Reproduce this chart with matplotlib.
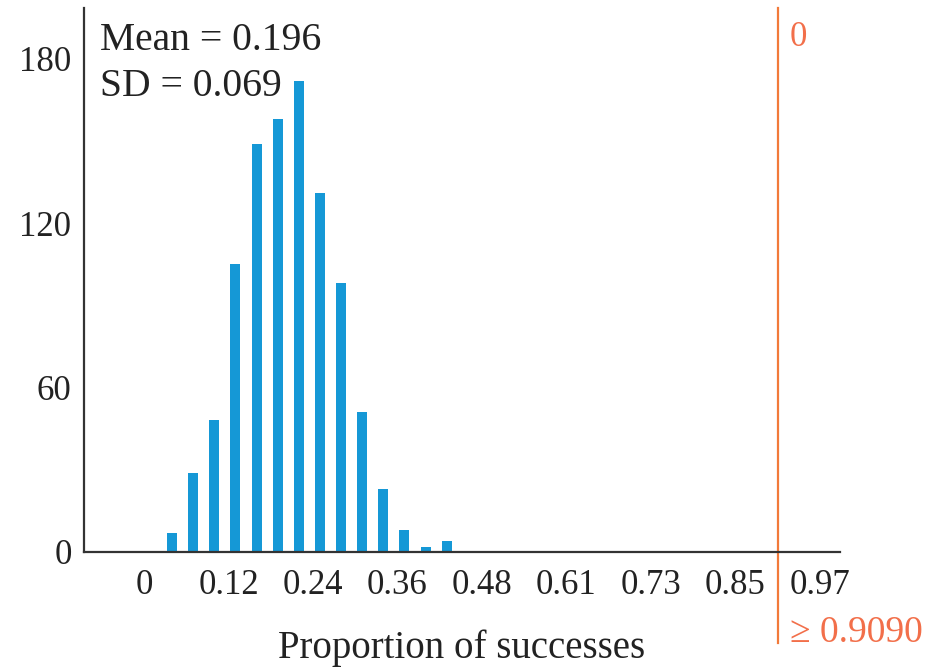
import matplotlib
matplotlib.use('Agg')
import matplotlib.pyplot as plt
import numpy as np

# simulated count of successes out of n = 33
n_trials = 33
successes = [1, 2, 3, 4, 5, 6, 7, 8, 9, 10, 11, 12, 13, 14]
counts = [7, 29, 48, 105, 149, 158, 172, 131, 98, 51, 23, 8, 2, 4]
tick_k = [0, 4, 8, 12, 16, 20, 24, 28, 32]
tick_labels = ["0", "0.12", "0.24", "0.36", "0.48", "0.61", "0.73", "0.85", "0.97"]
y_ticks = [0, 60, 120, 180]
cutoff = 30 / 33  # 0.9090
mean_txt = "Mean = 0.196"
sd_txt = "SD = 0.069"

plt.rcParams['font.family'] = ['Liberation Serif', 'DejaVu Serif']

fig = plt.figure(figsize=(9.38, 6.69), dpi=100)
ax = fig.add_axes([84/938, 117/669, 756/938, 544/669])

blue = "#1598D6"
orange = "#F27A3A"

x = (np.array(successes) + 0.33) / n_trials
ax.bar(x, counts, width=0.47/n_trials, color=blue)

ax.set_xlim(-2.84/n_trials, 32.95/n_trials)
ax.set_ylim(0, 198.5)

ax.set_xticks(np.array(tick_k)/n_trials)
ax.set_xticklabels(tick_labels)
ax.set_yticks(y_ticks)
ax.tick_params(axis='both', length=0, labelsize=25, colors="#222222")
ax.tick_params(axis='x', pad=12)
ax.tick_params(axis='y', pad=9)

for s in ['top', 'right']:
    ax.spines[s].set_visible(False)
for s in ['left', 'bottom']:
    ax.spines[s].set_color("#333333")
    ax.spines[s].set_linewidth(1.6)

ax.set_xlabel("Proportion of successes", fontsize=28, color="#222222", labelpad=20)

ax.text(0.021, 0.975, mean_txt + "\n" + sd_txt, transform=ax.transAxes,
        fontsize=28.5, va='top', ha='left', linespacing=1.32, color="#222222")

# cutoff line reaching below the axis
ax.axvline(cutoff, ymin=-0.168, ymax=1.0, color=orange, lw=1.6, clip_on=False)
ax.text(cutoff + 0.55/n_trials, 0.945, "0", transform=ax.get_xaxis_transform(),
        fontsize=25, color="#F26F4A", va='center', ha='left')
ax.text(cutoff + 0.6/n_trials, -0.148, "≥ 0.9090", transform=ax.get_xaxis_transform(),
        fontsize=27, color="#F26F4A", va='center', ha='left')

fig.savefig("out.png", dpi=100)
